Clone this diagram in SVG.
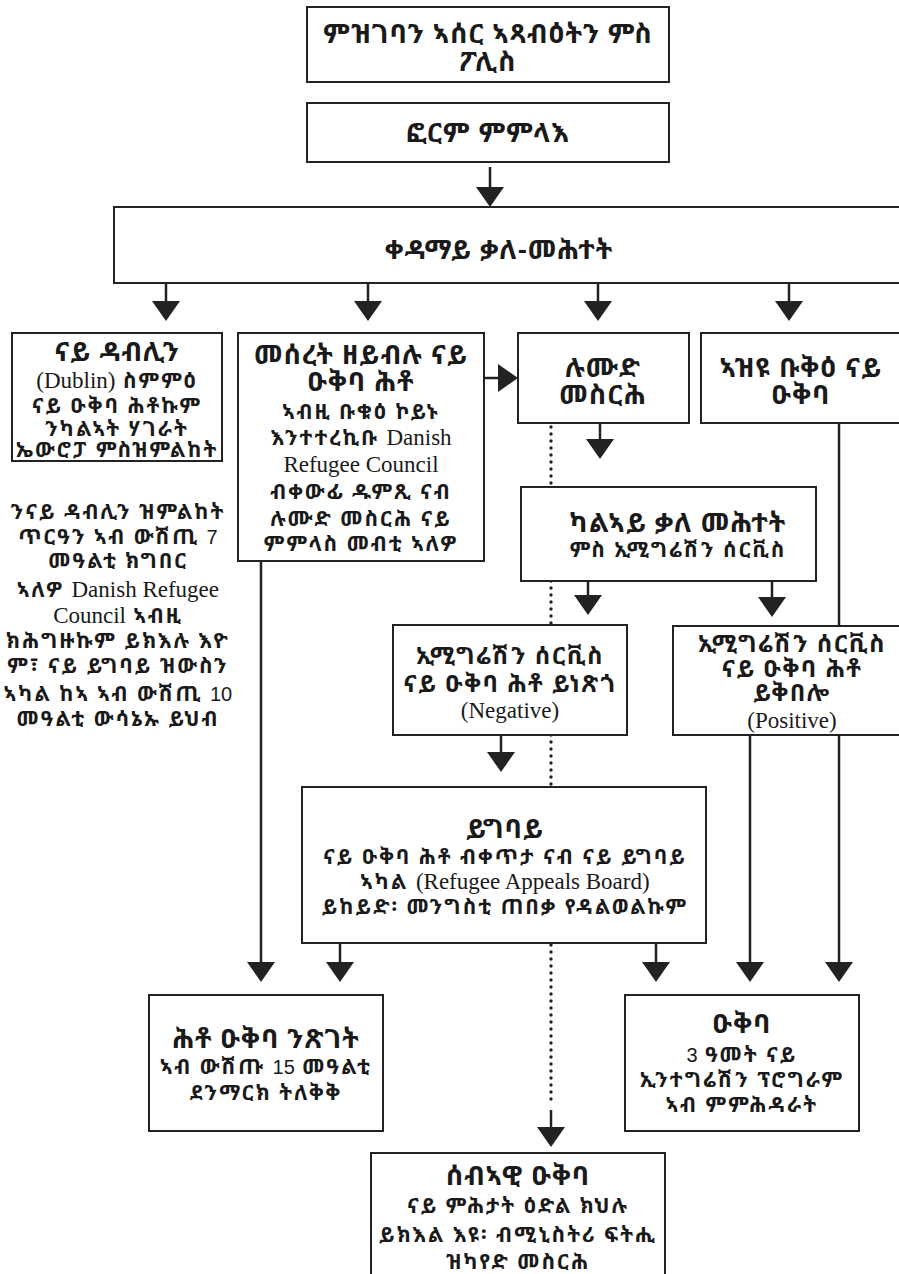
<svg xmlns="http://www.w3.org/2000/svg" width="899" height="1274" viewBox="0 0 899 1274">
<style>
.box{fill:#fff;stroke:#222;stroke-width:2}
.t{font-family:"Noto Sans Ethiopic","Noto Sans","DejaVu Sans",sans-serif;font-weight:bold;fill:#1a1a1a;text-anchor:middle}
.h{font-size:27px;letter-spacing:1px}
.m{font-size:24px;letter-spacing:1.5px}
.b{font-size:21px;letter-spacing:2px}
.lat{font-family:"Liberation Serif",serif;font-weight:normal;font-size:23px;letter-spacing:0}
.num{font-family:"Liberation Sans",sans-serif;font-weight:normal;font-size:20px;letter-spacing:0}
.ln{stroke:#222;stroke-width:2.5;fill:none}
.dot{stroke:#222;stroke-width:3.4;stroke-dasharray:0 7;stroke-linecap:round;fill:none}
</style>
<defs>
<marker id="ah" markerUnits="userSpaceOnUse" markerWidth="20" markerHeight="28" viewBox="0 0 20 28" refX="10" refY="14" orient="auto"><path d="M0,0 L20,14 L0,28 Z" fill="#222"/></marker>
</defs>
<rect width="899" height="1274" fill="#fff"/>
<g id="connectors">
<path class="ln" marker-end="url(#ah)" d="M490,167 V197"/>
<path class="ln" marker-end="url(#ah)" d="M166,283 V311"/>
<path class="ln" marker-end="url(#ah)" d="M368,283 V311"/>
<path class="ln" marker-end="url(#ah)" d="M598,283 V311"/>
<path class="ln" marker-end="url(#ah)" d="M789,283 V311"/>
<path class="ln" marker-end="url(#ah)" d="M484,378 H508"/>
<path class="ln" marker-end="url(#ah)" d="M600,423 V449"/>
<path class="dot" d="M551,427 V1106"/>
<path class="ln" marker-end="url(#ah)" d="M551,1110 V1137"/>
<path class="ln" marker-end="url(#ah)" d="M588,581 V605"/>
<path class="ln" marker-end="url(#ah)" d="M772,581 V607"/>
<path class="ln" marker-end="url(#ah)" d="M501,735 V762"/>
<path class="ln" marker-end="url(#ah)" d="M839,423 V972"/>
<path class="ln" marker-end="url(#ah)" d="M750,735 V972"/>
<path class="ln" marker-end="url(#ah)" d="M656,943 V972"/>
<path class="ln" marker-end="url(#ah)" d="M340,943 V972"/>
<path class="ln" marker-end="url(#ah)" d="M261,561 V972"/>
</g>
<g id="n-registration">
<rect class="box" x="307" y="7" width="362" height="75"/>
<text class="t h" x="488" y="43">ምዝገባን ኣሰር ኣጻብዕትን ምስ</text>
<text class="t h" x="488" y="71">ፖሊስ</text>
</g>
<g id="n-form">
<rect class="box" x="307" y="103" width="362" height="59"/>
<text class="t h" x="488" y="142">ፎርም ምምላእ</text>
</g>
<g id="n-first-interview">
<rect class="box" x="114" y="207" width="790" height="76"/>
<text class="t h" x="499" y="259">ቀዳማይ ቃለ-መሕተት</text>
</g>
<g id="n-dublin">
<rect class="box" x="12" y="333" width="210" height="128"/>
<text class="t h" x="117" y="361">ናይ ዳብሊን</text>
<text class="t b" x="117" y="388"><tspan class="lat">(Dublin)</tspan> ስምምዕ</text>
<text class="t b" x="117" y="413">ናይ ዑቅባ ሕቶኩም</text>
<text class="t b" x="117" y="436">ንካልኣት ሃገራት</text>
<text class="t b" x="117" y="457">ኤውሮፓ ምስዝምልከት</text>
</g>
<g id="n-dublin-note">
<text class="t b" x="118" y="519">ንናይ ዳብሊን ዝምልከት</text>
<text class="t b" x="118" y="544">ጥርዓን ኣብ ውሽጢ <tspan class="num">7</tspan></text>
<text class="t b" x="118" y="568">መዓልቲ ክግበር</text>
<text class="t b" x="118" y="597">ኣለዎ <tspan class="lat">Danish Refugee</tspan></text>
<text class="t b" x="118" y="623"><tspan class="lat">Council</tspan> ኣብዚ</text>
<text class="t b" x="118" y="648">ክሕግዙኩም ይክእሉ እዮ</text>
<text class="t b" x="118" y="673">ም፣ ናይ ይግባይ ዝውስን</text>
<text class="t b" x="118" y="701">ኣካል ከኣ ኣብ ውሽጢ <tspan class="num">10</tspan></text>
<text class="t b" x="118" y="726">መዓልቲ ውሳኔኡ ይህብ</text>
</g>
<g id="n-unfounded">
<rect class="box" x="238" y="333" width="246" height="228"/>
<text class="t h" x="361" y="364">መሰረት ዘይብሉ ናይ</text>
<text class="t h" x="361" y="391">ዑቅባ ሕቶ</text>
<text class="t b" x="361" y="419">ኣብዚ ቡቁዕ ኮይኑ</text>
<text class="t b" x="361" y="445">እንተተረኪቡ <tspan class="lat">Danish</tspan></text>
<text class="t b" x="361" y="472"><tspan class="lat">Refugee Council</tspan></text>
<text class="t b" x="361" y="499">ብቀውፊ ዱምጺ ናብ</text>
<text class="t b" x="361" y="526">ሉሙድ መስርሕ ናይ</text>
<text class="t b" x="361" y="551">ምምላስ መብቲ ኣለዎ</text>
</g>
<g id="n-normal">
<rect class="box" x="518" y="333" width="171" height="90"/>
<text class="t h" x="603" y="377">ሉሙድ</text>
<text class="t h" x="603" y="404">መስርሕ</text>
</g>
<g id="n-strong">
<rect class="box" x="701" y="333" width="205" height="90"/>
<text class="t h" x="801" y="377">ኣዝዩ ቡቅዕ ናይ</text>
<text class="t h" x="801" y="404">ዑቅባ</text>
</g>
<g id="n-second-interview">
<rect class="box" x="521" y="487" width="295" height="94"/>
<text class="t h" x="678" y="532">ካልኣይ ቃለ መሕተት</text>
<text class="t b" x="678" y="557">ምስ ኢሚግሬሽን ሰርቪስ</text>
</g>
<g id="n-negative">
<rect class="box" x="393" y="625" width="234" height="110"/>
<text class="t m" x="510" y="664">ኢሚግሬሽን ሰርቪስ</text>
<text class="t m" x="510" y="692">ናይ ዑቅባ ሕቶ ይነጽጎ</text>
<text class="t b" x="510" y="718"><tspan class="lat">(Negative)</tspan></text>
</g>
<g id="n-positive">
<rect class="box" x="673" y="626" width="235" height="109"/>
<text class="t m" x="792" y="652">ኢሚግሬሽን ሰርቪስ</text>
<text class="t m" x="792" y="677">ናይ ዑቅባ ሕቶ</text>
<text class="t m" x="792" y="701">ይቅበሎ</text>
<text class="t b" x="792" y="728"><tspan class="lat">(Positive)</tspan></text>
</g>
<g id="n-appeal">
<rect class="box" x="302" y="787" width="404" height="156"/>
<text class="t h" x="505" y="838">ይግባይ</text>
<text class="t b" x="505" y="864">ናይ ዑቅባ ሕቶ ብቀጥታ ናብ ናይ ይግባይ</text>
<text class="t b" x="505" y="889">ኣካል <tspan class="lat">(Refugee Appeals Board)</tspan></text>
<text class="t b" x="505" y="914">ይከይድ፡ መንግስቲ ጠበቃ የዳልወልኩም</text>
</g>
<g id="n-rejected">
<rect class="box" x="149" y="995" width="234" height="136"/>
<text class="t h" x="266" y="1048">ሕቶ ዑቅባ ንጽገት</text>
<text class="t b" x="266" y="1074">ኣብ ውሽጡ <tspan class="num">15</tspan> መዓልቲ</text>
<text class="t b" x="266" y="1100">ደንማርክ ትለቅቅ</text>
</g>
<g id="n-asylum">
<rect class="box" x="625" y="995" width="234" height="136"/>
<text class="t h" x="742" y="1033">ዑቅባ</text>
<text class="t b" x="742" y="1062"><tspan class="num">3</tspan> ዓመት ናይ</text>
<text class="t b" x="742" y="1087">ኢንተግሬሽን ፕሮግራም</text>
<text class="t b" x="742" y="1112">ኣብ ምምሕዳራት</text>
</g>
<g id="n-humanitarian">
<rect class="box" x="371" y="1153" width="294" height="130"/>
<text class="t h" x="518" y="1185">ሰብኣዊ ዑቅባ</text>
<text class="t b" x="518" y="1213">ናይ ምሕታት ዕድል ክህሉ</text>
<text class="t b" x="518" y="1242">ይክእል እዩ፡ ብሚኒስትሪ ፍትሒ</text>
<text class="t b" x="518" y="1269">ዝካየድ መስርሕ</text>
</g>
</svg>
